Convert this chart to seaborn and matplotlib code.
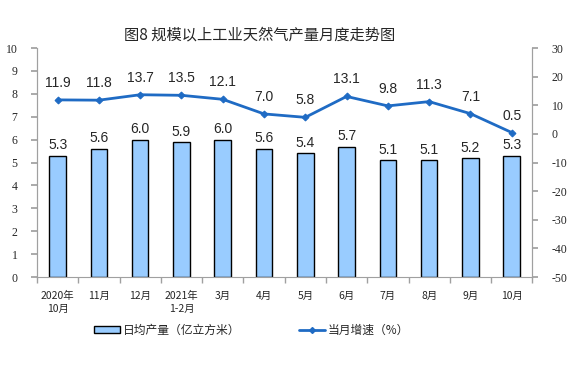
import numpy as np
import pandas as pd
import matplotlib
matplotlib.use("Agg")
import matplotlib.pyplot as plt
import seaborn as sns
from matplotlib.patches import Patch
from matplotlib.lines import Line2D

months = ["2020年\n10月", "11月", "12月", "2021年\n1-2月", "3月", "4月",
          "5月", "6月", "7月", "8月", "9月", "10月"]
daily_output = [5.3, 5.6, 6.0, 5.9, 6.0, 5.6, 5.4, 5.7, 5.1, 5.1, 5.2, 5.3]
growth = [11.9, 11.8, 13.7, 13.5, 12.1, 7.0, 5.8, 13.1, 9.8, 11.3, 7.1, 0.5]
left_ticks = list(range(0, 11))
right_ticks = list(range(-50, 31, 10))

bar_color = "#99CCFF"
line_color = "#1F6BC4"
cjk = ["Noto Sans CJK SC", "DejaVu Sans"]
num_font = ["Liberation Sans", "DejaVu Sans"]
serif = ["Liberation Serif", "DejaVu Serif"]

sns.set_theme(style="white")
plt.rcParams["font.family"] = cjk
plt.rcParams["axes.unicode_minus"] = False

df = pd.DataFrame({"month": months, "output": daily_output, "growth": growth})
df["pos"] = np.arange(len(df))

fig = plt.figure(figsize=(5.78, 3.67), dpi=100)
ax = fig.add_axes([0.064, 0.245, 0.857, 0.624])

sns.barplot(data=df, x="month", y="output", color=bar_color, width=0.4,
            edgecolor="black", linewidth=1.0, saturation=1, ax=ax)
ax.set_ylim(0, 10)
ax.set_yticks(left_ticks)
ax.set_yticklabels([str(t) for t in left_ticks], fontsize=8.5, family=serif)
ax.set_xlim(-0.5, len(df) - 0.5)
ax.set_xlabel("")
ax.set_ylabel("")

ax2 = ax.twinx()
sns.lineplot(data=df, x="pos", y="growth", color=line_color, marker="D",
             markersize=3.5, linewidth=2, markeredgecolor=line_color, ax=ax2)
ax2.set_ylim(-50, 30)
ax2.set_yticks(right_ticks)
ax2.set_yticklabels([str(t) for t in right_ticks], fontsize=8.5, family=serif)
ax2.set_xlim(-0.5, len(df) - 0.5)
ax2.set_xlabel("")
ax2.set_ylabel("")

for a in (ax, ax2):
    a.spines["top"].set_visible(False)
    for s in ("left", "right", "bottom"):
        a.spines[s].set_color("#A0A0A0")
        a.spines[s].set_linewidth(0.8)
ax2.spines["bottom"].set_visible(False)

ax.tick_params(axis="y", left=True, length=4, color="#A0A0A0", pad=10)
ax2.tick_params(axis="y", right=True, length=4, color="#A0A0A0", pad=10)

ax.set_xticks(range(len(df)))
ax.set_xticklabels(months, fontsize=7.5, linespacing=1.3)
ax.tick_params(axis="x", bottom=False, pad=4)
ax.set_xticks(np.arange(-0.5, len(df), 1), minor=True)
ax.tick_params(axis="x", which="minor", bottom=True, length=4, color="#A0A0A0")

for i, v in enumerate(daily_output):
    ax.text(i, v + 0.15, f"{v:.1f}", ha="center", va="bottom", fontsize=10,
            family=num_font)
for i, v in enumerate(growth):
    ax2.text(i, v + 3.5, f"{v:.1f}", ha="center", va="bottom", fontsize=10,
             family=num_font)

fig.text(0.45, 0.905, "图8 规模以上工业天然气产量月度走势图", ha="center",
         va="center", fontsize=11)

handles = [Patch(facecolor=bar_color, edgecolor="black", linewidth=1.0),
           Line2D([0], [0], color=line_color, lw=2, marker="D", markersize=3)]
labels = ["日均产量（亿立方米）", "当月增速（%）"]
fig.legend(handles, labels, loc="center", bbox_to_anchor=(0.435, 0.1), ncol=2,
           frameon=False, fontsize=8.5, columnspacing=5, handlelength=2.2,
           handleheight=0.6, handletextpad=0.2)

fig.savefig("out.png", dpi=100)
